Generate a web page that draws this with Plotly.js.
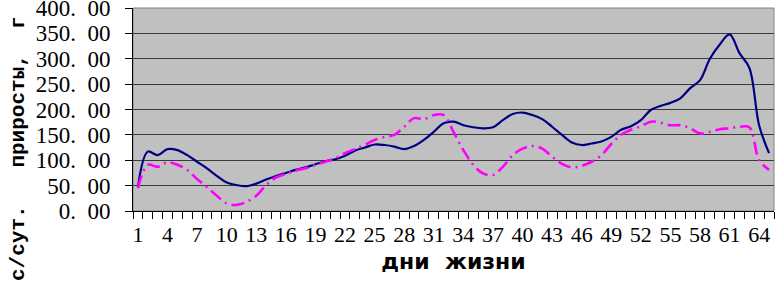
<!DOCTYPE html>
<html>
<head>
<meta charset="utf-8">
<script src="https://cdn.plot.ly/plotly-3.0.1.min.js"></script>
<style>html,body{margin:0;padding:0;background:#fff;}#chart{width:776px;height:282px;}</style>
</head>
<body>
<div id="chart"></div>
<script>
const days = Array.from({length: 65}, (_, i) => i + 1);
const seriesBlue = [47,117,110,122,120,110,97,84,69,56,51,49,54,62,69,75,81,86,92,98,102,109,119,125,131,130,127,122,128,140,156,173,176,169,165,163,165,179,191,194,189,181,166,150,135,130,133,137,146,160,167,179,199,207,213,222,242,258,300,328,348,311,282,168,114];
const seriesMagenta = [45,91,87,96,91,81,63,47,30,15,12,18,30,51,66,73,80,84,91,97,104,114,122,130,140,146,150,166,183,181,189,189,156,120,91,74,71,87,110,123,128,123,107,93,86,89,97,110,132,150,160,167,176,174,169,169,163,153,156,161,163,166,165,100,81];
const xTickVals = [1,4,7,10,13,16,19,22,25,28,31,34,37,40,43,46,49,52,55,58,61,64];
const yTickVals = [0,50,100,150,200,250,300,350,400];
const yTickText = ["0.\u00a0\u00a000","50.\u00a0\u00a000","100.\u00a0\u00a000","150.\u00a0\u00a000","200.\u00a0\u00a000","250.\u00a0\u00a000","300.\u00a0\u00a000","350.\u00a0\u00a000","400.\u00a0\u00a000"];
const xTitle = "дни\u00a0\u00a0жизни";
const yTitle = "с/сут.\u00a0\u00a0\u00a0приросты,\u00a0\u00a0г";

const traces = [
  {x: days, y: seriesBlue, type: 'scatter', mode: 'lines',
   line: {color: '#000080', width: 2.2, shape: 'spline', smoothing: 1}},
  {x: days, y: seriesMagenta, type: 'scatter', mode: 'lines',
   line: {color: '#FF00FF', width: 2.6, shape: 'spline', smoothing: 1, dash: '13px,5px,2px,5px'}}
];

const layout = {
  width: 776, height: 282,
  margin: {l: 133, r: 2, t: 8, b: 71},
  paper_bgcolor: '#ffffff',
  plot_bgcolor: '#C0C0C0',
  showlegend: false,
  font: {family: 'Liberation Serif', color: '#000'},
  xaxis: {
    type: 'linear', range: [0.5, 65.5],
    tickmode: 'array', tickvals: xTickVals, ticktext: xTickVals.map(String),
    ticks: '', showgrid: false, zeroline: false,
    showline: true, linecolor: '#000', linewidth: 1,
    minor: {tick0: 0.5, dtick: 1, ticks: 'outside', ticklen: 7, tickcolor: '#000', showgrid: false},
    tickfont: {family: 'Liberation Serif', size: 22, color: '#000'},
    ticklabelstandoff: 4,
    ticklabeloverflow: 'allow',
    title: {text: xTitle, font: {family: 'DejaVu Sans', size: 22, color: '#000', weight: 'bold'}, standoff: 7},
    automargin: false
  },
  yaxis: {
    range: [0, 400], tickmode: 'array', tickvals: yTickVals, ticktext: yTickText,
    ticks: 'outside', ticklen: 7, tickcolor: '#000',
    showgrid: true, gridcolor: '#3a3a3a', gridwidth: 1, zeroline: false,
    showline: true, linecolor: '#000', linewidth: 1,
    tickfont: {family: 'Liberation Serif', size: 23, color: '#000'},
    ticklabelstandoff: 10,
    ticklabeloverflow: 'allow',
    automargin: false
  },
  shapes: [
    {type: 'rect', xref: 'paper', yref: 'paper', x0: 0, x1: 1, y0: 0, y1: 1,
     line: {color: '#808080', width: 1}, layer: 'below'}
  ],
  annotations: [
    {text: yTitle, xref: 'paper', yref: 'paper', x: -133/641 + 18/641, y: (211 - 148) / 203,
     xanchor: 'center', yanchor: 'middle', textangle: -90, showarrow: false,
     font: {family: 'Liberation Mono', size: 21, color: '#000', weight: 'bold'}}
  ]
};

Plotly.newPlot('chart', traces, layout, {displayModeBar: false, staticPlot: true});
</script>
</body>
</html>
